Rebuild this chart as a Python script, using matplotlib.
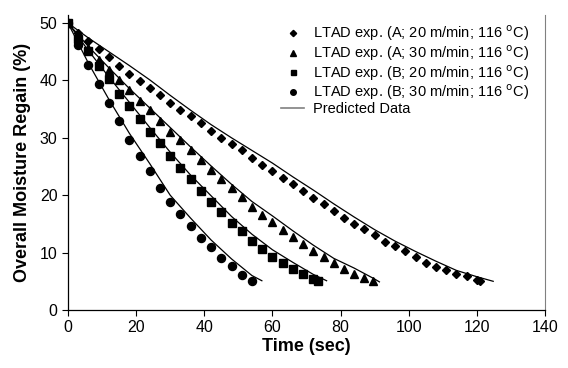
import matplotlib
matplotlib.use("Agg")
import matplotlib.pyplot as plt
from matplotlib.lines import Line2D

plt.rcParams['font.family'] = ['Liberation Sans', 'DejaVu Sans']

# experimental data (sec, %)
t_a20 = [0, 3, 6, 9, 12, 15, 18, 21, 24, 27, 30, 33, 36, 39, 42, 45, 48, 51, 54, 57,
         60, 63, 66, 69, 72, 75, 78, 81, 84, 87, 90, 93, 96, 99, 102, 105, 108, 111,
         114, 117, 120, 121]
m_a20 = [50, 48.3, 46.8, 45.4, 44.0, 42.6, 41.2, 39.9, 38.7, 37.4, 36.0, 34.9, 33.8,
         32.5, 31.2, 30.0, 28.9, 27.8, 26.4, 25.3, 24.2, 23.0, 22.0, 20.7, 19.6, 18.4,
         17.3, 16.1, 15.0, 14.1, 13.1, 11.9, 11.1, 10.2, 9.3, 8.2, 7.5, 6.9, 6.2, 5.9,
         5.3, 5.1]

t_a30 = [0, 3, 6, 9, 12, 15, 18, 21, 24, 27, 30, 33, 36, 39, 42, 45, 48, 51, 54, 57,
         60, 63, 66, 69, 72, 75, 78, 81, 84, 87, 89.5]
m_a30 = [50, 47.8, 45.6, 43.6, 41.8, 40.1, 38.3, 36.5, 34.8, 32.9, 31.1, 29.6, 27.8,
         26.1, 24.4, 22.8, 21.2, 19.7, 18.0, 16.5, 15.3, 14.0, 12.8, 11.5, 10.3, 9.3,
         8.2, 7.2, 6.3, 5.5, 5.0]

t_b20 = [0, 3, 6, 9, 12, 15, 18, 21, 24, 27, 30, 33, 36, 39, 42, 45, 48, 51, 54, 57,
         60, 63, 66, 69, 72, 73.5]
m_b20 = [50, 47.3, 45.2, 42.5, 40.2, 37.7, 35.6, 33.3, 31.1, 29.1, 26.9, 24.8, 22.8,
         20.7, 18.8, 17.0, 15.2, 13.7, 12.0, 10.6, 9.3, 8.2, 7.1, 6.2, 5.4, 5.0]

t_b30 = [0, 3, 6, 9, 12, 15, 18, 21, 24, 27, 30, 33, 36, 39, 42, 45, 48, 51, 54]
m_b30 = [50, 46.1, 42.7, 39.3, 36.1, 32.9, 29.7, 26.8, 24.2, 21.3, 18.9, 16.7, 14.6,
         12.6, 10.9, 9.1, 7.6, 6.1, 5.1]

# predicted curves
tp_a20 = [0, 6, 12, 18, 24, 30, 36, 42, 48, 54, 60, 66, 72, 78, 84, 90, 96, 102, 108,
          114, 120, 124.8]
mp_a20 = [50, 47.4, 45.0, 42.6, 40.1, 37.4, 34.8, 32.3, 30.0, 27.8, 25.6, 23.2, 20.9,
          18.5, 16.2, 14.0, 12.0, 10.2, 8.5, 6.9, 5.8, 5.0]
tp_a30 = [0, 6, 12, 18, 24, 30, 36, 42, 48, 54, 60, 66, 72, 78, 84, 90, 91.4]
mp_a30 = [50, 45.9, 42.2, 38.6, 35.2, 31.8, 28.4, 25.1, 21.9, 18.9, 16.4, 13.8, 11.3,
          9.0, 7.3, 5.4, 4.9]
tp_b20 = [0, 6, 12, 18, 24, 30, 36, 42, 48, 54, 60, 66, 72, 75.9]
mp_b20 = [50, 45.2, 40.6, 36.2, 31.8, 27.5, 23.5, 19.9, 16.3, 13.2, 10.5, 8.3, 6.2, 5.1]
tp_b30 = [0, 6, 12, 18, 24, 30, 36, 42, 48, 54, 56.9]
mp_b30 = [50, 43.0, 36.7, 30.8, 25.5, 20.0, 16.0, 12.2, 8.9, 6.0, 5.1]

labels = ['LTAD exp. (A; 20 m/min; 116 $^{\\mathrm{o}}$C)',
          'LTAD exp. (A; 30 m/min; 116 $^{\\mathrm{o}}$C)',
          'LTAD exp. (B; 20 m/min; 116 $^{\\mathrm{o}}$C)',
          'LTAD exp. (B; 30 m/min; 116 $^{\\mathrm{o}}$C)',
          'Predicted Data']

fig = plt.figure(figsize=(5.68, 3.68), dpi=100)
ax = fig.add_axes([0.1197, 0.1576, 0.8398, 0.8016])

for tp, mp in [(tp_a20, mp_a20), (tp_a30, mp_a30), (tp_b20, mp_b20), (tp_b30, mp_b30)]:
    ax.plot(tp, mp, color='black', lw=0.9, zorder=2)

ax.plot(t_a20, m_a20, 'D', color='black', ms=4.4, ls='none', zorder=3)
ax.plot(t_a30, m_a30, '^', color='black', ms=5.8, ls='none', zorder=3)
ax.plot(t_b20, m_b20, 's', color='black', ms=5.2, ls='none', zorder=3)
ax.plot(t_b30, m_b30, 'o', color='black', ms=5.8, ls='none', zorder=3)

handles = [Line2D([], [], marker='D', color='black', ls='none', ms=3.2),
           Line2D([], [], marker='^', color='black', ls='none', ms=3.8),
           Line2D([], [], marker='s', color='black', ls='none', ms=3.6),
           Line2D([], [], marker='o', color='black', ls='none', ms=4.0),
           Line2D([], [], color='#808080', lw=1.2)]
ax.legend(handles, labels, loc='upper right', bbox_to_anchor=(0.985, 1.0),
          frameon=False, fontsize=10.5, handlelength=1.6, handletextpad=0.6,
          labelspacing=0.0, borderaxespad=0.2)

ax.set_xlim(0, 140)
ax.set_ylim(0, 51.4)
ax.set_xticks(range(0, 141, 20))
ax.set_yticks(range(0, 51, 10))
ax.tick_params(direction='out', length=4, width=0.8, labelsize=11.5, color='black')
ax.spines['top'].set_visible(False)
ax.spines['right'].set_color('#808080')
ax.spines['left'].set_linewidth(0.9)
ax.spines['bottom'].set_linewidth(0.9)

ax.set_xlabel('Time (sec)', fontsize=13, fontweight='bold', labelpad=2)
ax.set_ylabel('Overall Moisture Regain (%)', fontsize=13, fontweight='bold', labelpad=6)

fig.savefig('out.png', dpi=100)
